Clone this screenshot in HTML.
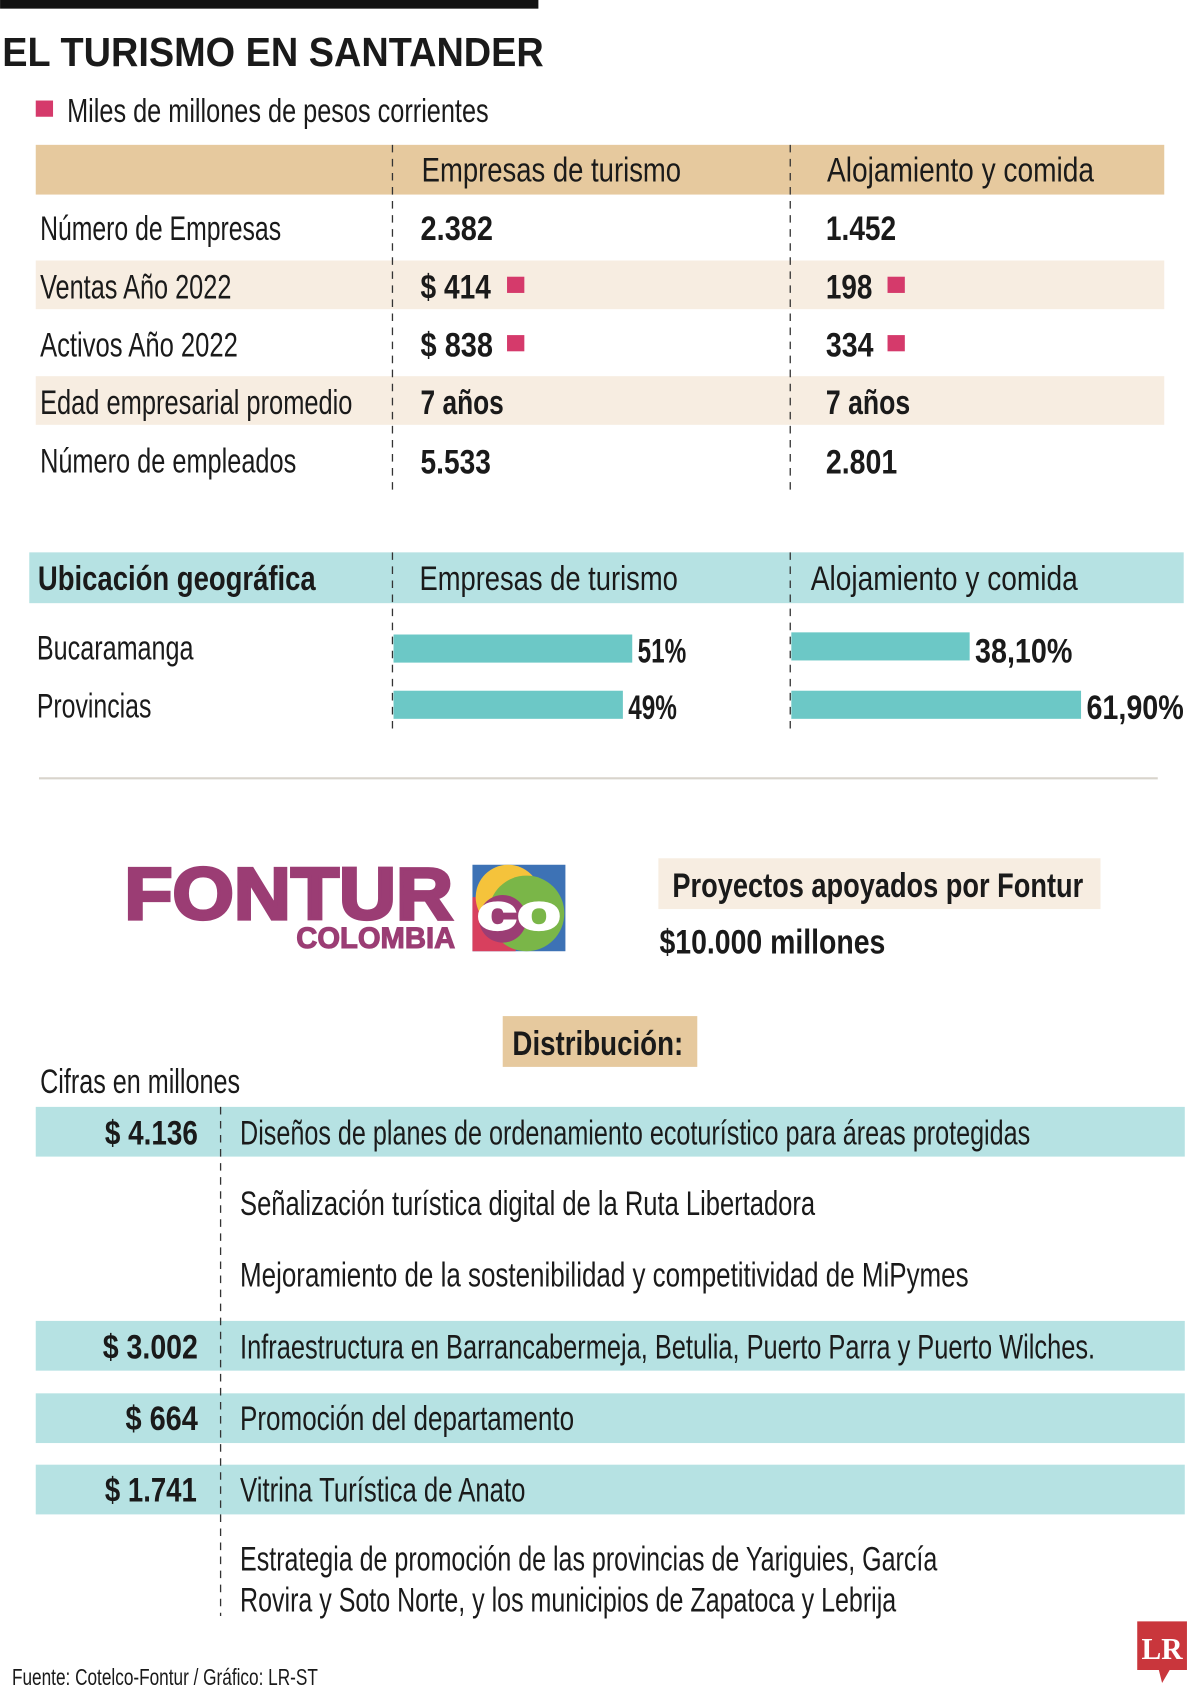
<!DOCTYPE html>
<html><head><meta charset="utf-8"><style>
html,body{margin:0;padding:0;background:#fff}
svg{display:block}
text{font-family:"Liberation Sans Narrow","Liberation Sans",sans-serif;fill:#1a1a1a}
.b{font-weight:bold}
</style></head><body>
<svg id="page" width="1200" height="1696" viewBox="0 0 1110 1569" xmlns="http://www.w3.org/2000/svg">
<rect x="0" y="0" width="498" height="8" fill="#111"/>
<text class="b" x="2" y="61" font-size="38" textLength="501" lengthAdjust="spacingAndGlyphs">EL TURISMO EN SANTANDER</text>
<rect x="33" y="93" width="16" height="15" fill="#d53a6b"/>
<text x="62" y="113" font-size="31" textLength="390" lengthAdjust="spacingAndGlyphs">Miles de millones de pesos corrientes</text>

<g>
<rect x="33" y="134" width="1044" height="46" fill="#e6c99e"/>
<text x="390" y="168" font-size="32" textLength="240" lengthAdjust="spacingAndGlyphs">Empresas de turismo</text>
<text x="765" y="168" font-size="32" textLength="247" lengthAdjust="spacingAndGlyphs">Alojamiento y comida</text>
<rect x="33" y="241" width="1044" height="45" fill="#f7ede1"/>
<rect x="33" y="348" width="1044" height="45" fill="#f7ede1"/>
<line x1="363" y1="134" x2="363" y2="455" stroke="#333" stroke-width="1.2" stroke-dasharray="7,6"/>
<line x1="731" y1="134" x2="731" y2="455" stroke="#333" stroke-width="1.2" stroke-dasharray="7,6"/>

<text x="37" y="222" font-size="32" textLength="223" lengthAdjust="spacingAndGlyphs">Número de Empresas</text>
<text x="37" y="276" font-size="32" textLength="177" lengthAdjust="spacingAndGlyphs">Ventas Año 2022</text>
<text x="37" y="330" font-size="32" textLength="183" lengthAdjust="spacingAndGlyphs">Activos Año 2022</text>
<text x="37" y="383" font-size="32" textLength="289" lengthAdjust="spacingAndGlyphs">Edad empresarial promedio</text>
<text x="37" y="437" font-size="32" textLength="237" lengthAdjust="spacingAndGlyphs">Número de empleados</text>

<text class="b" x="389" y="222" font-size="32" textLength="67" lengthAdjust="spacingAndGlyphs">2.382</text>
<text class="b" x="764" y="222" font-size="32" textLength="65" lengthAdjust="spacingAndGlyphs">1.452</text>
<text class="b" x="389" y="276" font-size="32" textLength="65" lengthAdjust="spacingAndGlyphs">$ 414</text>
<rect x="469" y="256" width="16" height="15" fill="#d53a6b"/>
<text class="b" x="764" y="276" font-size="32" textLength="43" lengthAdjust="spacingAndGlyphs">198</text>
<rect x="821" y="256" width="16" height="15" fill="#d53a6b"/>
<text class="b" x="389" y="330" font-size="32" textLength="67" lengthAdjust="spacingAndGlyphs">$ 838</text>
<rect x="469" y="310" width="16" height="15" fill="#d53a6b"/>
<text class="b" x="764" y="330" font-size="32" textLength="44" lengthAdjust="spacingAndGlyphs">334</text>
<rect x="821" y="310" width="16" height="15" fill="#d53a6b"/>
<text class="b" x="389" y="383" font-size="32" textLength="77" lengthAdjust="spacingAndGlyphs">7 años</text>
<text class="b" x="764" y="383" font-size="32" textLength="78" lengthAdjust="spacingAndGlyphs">7 años</text>
<text class="b" x="389" y="438" font-size="32" textLength="65" lengthAdjust="spacingAndGlyphs">5.533</text>
<text class="b" x="764" y="438" font-size="32" textLength="66" lengthAdjust="spacingAndGlyphs">2.801</text>
</g>

<g id="geo">
<rect x="27" y="511" width="1068" height="47" fill="#b6e2e3"/>
<text class="b" x="35" y="546" font-size="32" textLength="257" lengthAdjust="spacingAndGlyphs">Ubicación geográfica</text>
<text x="388" y="546" font-size="32" textLength="239" lengthAdjust="spacingAndGlyphs">Empresas de turismo</text>
<text x="750" y="546" font-size="32" textLength="247" lengthAdjust="spacingAndGlyphs">Alojamiento y comida</text>
<line x1="363" y1="511" x2="363" y2="680" stroke="#333" stroke-width="1.2" stroke-dasharray="7,6"/>
<line x1="731" y1="511" x2="731" y2="680" stroke="#333" stroke-width="1.2" stroke-dasharray="7,6"/>
<text x="34" y="610" font-size="32" textLength="145" lengthAdjust="spacingAndGlyphs">Bucaramanga</text>
<text x="34" y="664" font-size="32" textLength="106" lengthAdjust="spacingAndGlyphs">Provincias</text>
</g>

<line x1="36" y1="720" x2="1071" y2="720" stroke="#d8d4cc" stroke-width="2"/>

<g>
<text x="115" y="850" font-size="68" font-weight="900" stroke="#9b3d74" stroke-width="3" style="fill:#9b3d74;font-family:'Liberation Sans',sans-serif" textLength="304" lengthAdjust="spacingAndGlyphs">FONTUR</text>
<text x="274" y="877" font-size="27" font-weight="900" stroke="#9b3d74" stroke-width="1" style="fill:#9b3d74;font-family:'Liberation Sans',sans-serif" textLength="147" lengthAdjust="spacingAndGlyphs">COLOMBIA</text>
<rect x="437" y="800" width="86" height="80" fill="#3d72b5"/>
<rect x="437" y="830" width="40" height="50" fill="#d8405e"/>
<circle cx="470" cy="830" r="30" fill="#f5c33b"/>
<circle cx="487" cy="845" r="35" fill="#7ab648"/>
<circle cx="465" cy="850" r="22" fill="#9b3d74"/>
<text x="441" y="860" font-size="46" font-weight="900" stroke="#fff" stroke-width="2" style="fill:#fff;font-family:'Liberation Sans',sans-serif" textLength="78" lengthAdjust="spacingAndGlyphs">co</text>
</g>

<rect x="609" y="794" width="409" height="47" fill="#f7ede1"/>
<text class="b" x="622" y="830" font-size="32" textLength="380" lengthAdjust="spacingAndGlyphs">Proyectos apoyados por Fontur</text>
<text class="b" x="610" y="882" font-size="32" textLength="209" lengthAdjust="spacingAndGlyphs">$10.000 millones</text>

<rect x="465" y="940" width="180" height="47" fill="#e6c99e"/>
<text class="b" x="474" y="976" font-size="32" textLength="158" lengthAdjust="spacingAndGlyphs">Distribución:</text>
<text x="37" y="1011" font-size="32" textLength="185" lengthAdjust="spacingAndGlyphs">Cifras en millones</text>

<g>
<rect x="33" y="1024" width="1063" height="46" fill="#b6e2e3"/>
<rect x="33" y="1222" width="1063" height="46" fill="#b6e2e3"/>
<rect x="33" y="1289" width="1063" height="46" fill="#b6e2e3"/>
<rect x="33" y="1355" width="1063" height="46" fill="#b6e2e3"/>
<line x1="204" y1="1024" x2="204" y2="1495" stroke="#333" stroke-width="1.2" stroke-dasharray="7,6"/>
<text class="b" x="97" y="1059" font-size="32" textLength="86" lengthAdjust="spacingAndGlyphs">$ 4.136</text>
<text class="b" x="95" y="1257" font-size="32" textLength="88" lengthAdjust="spacingAndGlyphs">$ 3.002</text>
<text class="b" x="116" y="1323" font-size="32" textLength="67" lengthAdjust="spacingAndGlyphs">$ 664</text>
<text class="b" x="97" y="1389" font-size="32" textLength="85" lengthAdjust="spacingAndGlyphs">$ 1.741</text>
<text x="222" y="1059" font-size="32" textLength="731" lengthAdjust="spacingAndGlyphs">Diseños de planes de ordenamiento ecoturístico para áreas protegidas</text>
<text x="222" y="1124" font-size="32" textLength="532" lengthAdjust="spacingAndGlyphs">Señalización turística digital de la Ruta Libertadora</text>
<text x="222" y="1190" font-size="32" textLength="674" lengthAdjust="spacingAndGlyphs">Mejoramiento de la sostenibilidad y competitividad de MiPymes</text>
<text x="222" y="1257" font-size="32" textLength="791" lengthAdjust="spacingAndGlyphs">Infraestructura en Barrancabermeja, Betulia, Puerto Parra y Puerto Wilches.</text>
<text x="222" y="1323" font-size="32" textLength="309" lengthAdjust="spacingAndGlyphs">Promoción del departamento</text>
<text x="222" y="1389" font-size="32" textLength="264" lengthAdjust="spacingAndGlyphs">Vitrina Turística de Anato</text>
<text x="222" y="1453" font-size="32" textLength="645" lengthAdjust="spacingAndGlyphs">Estrategia de promoción de las provincias de Yariguies, García</text>
<text x="222" y="1491" font-size="32" textLength="607" lengthAdjust="spacingAndGlyphs">Rovira y Soto Norte, y los municipios de Zapatoca y Lebrija</text>
</g>

<text x="11" y="1559" font-size="21" textLength="283" lengthAdjust="spacingAndGlyphs">Fuente: Cotelco-Fontur / Gráfico: LR-ST</text>
<g>
<path d="M1052,1500 H1098 V1545 H1082 L1075,1557 L1072,1545 H1052 Z" fill="#c9363c"/>
<text x="1056" y="1535" font-size="28" font-weight="bold" style="fill:#fff;font-family:'Liberation Serif',serif" textLength="38" lengthAdjust="spacingAndGlyphs">LR</text>
</g>
</svg>
<script>
const categories = ["Bucaramanga", "Provincias"];
const empresasValues = [51, 49];
const alojamientoValues = [38.1, 61.9];
const empresasLabels = ["51%", "49%"];
const alojamientoLabels = ["38,10%", "61,90%"];

const NS = "http://www.w3.org/2000/svg";
const geo = document.getElementById("geo");
const pxPerPct = 4.33;
function xScale(v, origin) { return origin + v * pxPerPct; }
const rowTop = [587, 639];
function drawSeries(values, labels, origin, key) {
  values.forEach((v, i) => {
    const r = document.createElementNS(NS, "rect");
    
    
    r.setAttribute("x", origin + 1);
    r.setAttribute("y", rowTop[i] - (key === "alojamiento" && i === 0 ? 2 : 0));
    r.setAttribute("width", xScale(v, origin) - origin);
    r.setAttribute("height", 26);
    r.setAttribute("fill", "#6cc8c6");
    geo.appendChild(r);
    const t = document.createElementNS(NS, "text");
    
    
    t.setAttribute("class", "b");
    t.setAttribute("x", xScale(v, origin) + 6);
    t.setAttribute("y", rowTop[i] + 26);
    t.setAttribute("font-size", "32");
    t.setAttribute("textLength", labels[i].length * 15);
    t.setAttribute("lengthAdjust", "spacingAndGlyphs");
    t.textContent = labels[i];
    geo.appendChild(t);
  });
}
drawSeries(empresasValues, empresasLabels, 363, "empresas");
drawSeries(alojamientoValues, alojamientoLabels, 731, "alojamiento");
</script>
</body></html>
